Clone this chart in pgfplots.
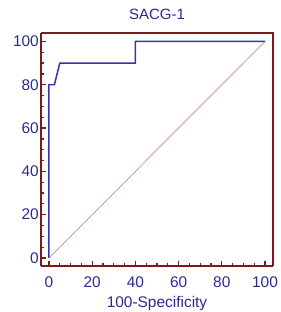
\documentclass[border=0pt]{standalone}
\usepackage{fontspec}
\setmainfont{Liberation Sans}
\usepackage{pgfplots}
\pgfplotsset{compat=1.18}
\definecolor{axred}{HTML}{7A1A1A}
\definecolor{txtblue}{HTML}{2B2B8C}
\definecolor{rocblue}{HTML}{3535A5}
\definecolor{diag}{HTML}{D08A8A}
\begin{document}
\begin{tikzpicture}[x=1bp,y=1bp]
\begin{axis}[
  scale only axis,
  width=232bp, height=233bp,
  xmin=-3.7, xmax=103.7, ymin=-3.7, ymax=103.9,
  axis line style={axred, line width=1.6pt},
  axis x line*=bottom, axis y line*=left,
  xtick={0,20,...,100}, ytick={0,20,...,100},
  minor x tick num=3, minor y tick num=3,
  tick style={axred, line width=1.3pt},
  major tick length=5bp, minor tick length=3bp,
  tick align=inside,
  tick label style={font=\fontsize{15.5}{17}\selectfont, text=txtblue, inner sep=0pt},
  /pgf/number format/assume math mode=true,
  yticklabel style={anchor=east, xshift=-2bp},
  xticklabel style={anchor=center, yshift=-16bp},
  title={SACG-1},
  title style={font=\fontsize{15}{17}\selectfont, text=txtblue, at={(axis description cs:0.5,1)}, anchor=center, yshift=12.5bp},
  xlabel={100-Specificity},
  xlabel style={font=\fontsize{15.5}{17}\selectfont, text=txtblue, at={(axis description cs:0.5,0)}, anchor=center, yshift=-38bp},
  clip=false,
]
\addplot[diag, line width=0.7pt] coordinates {(0,0) (100,100)};
\addplot[rocblue, line width=1.5pt] coordinates {(0,0) (0,80) (2.5,80) (5,90) (40,90) (40,100) (100,100)};
\draw[axred, line width=1.6pt] (rel axis cs:0,1) -- (rel axis cs:1,1) -- (rel axis cs:1,0);
\coordinate (bl) at (rel axis cs:0,0);
\coordinate (tr) at (rel axis cs:1,1);
\end{axis}
\pgfresetboundingbox
\path[use as bounding box] ([xshift=-41bp,yshift=-46bp]bl) rectangle ([xshift=8bp,yshift=33bp]tr);
\end{tikzpicture}
\end{document}
